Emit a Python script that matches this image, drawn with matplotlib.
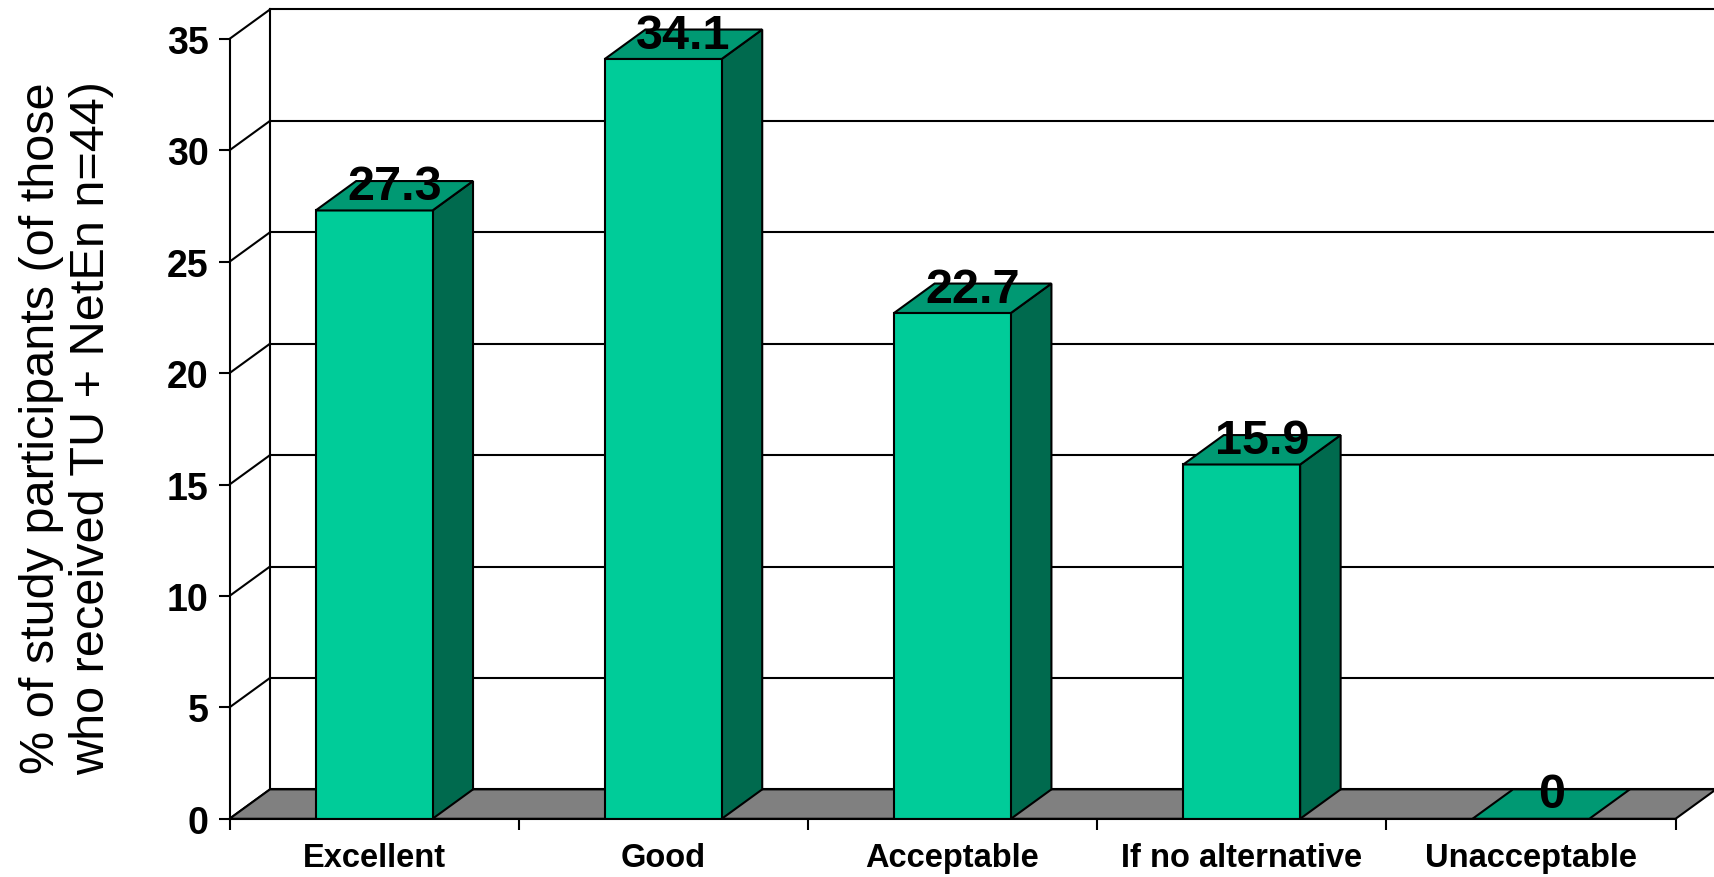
import matplotlib
matplotlib.use('Agg')
import matplotlib.pyplot as plt
from matplotlib.patches import Polygon

categories = ['Excellent', 'Good', 'Acceptable', 'If no alternative', 'Unacceptable']
values = [27.3, 34.1, 22.7, 15.9, 0]
value_labels = ['27.3', '34.1', '22.7', '15.9', '0']
y_ticks = [0, 5, 10, 15, 20, 25, 30, 35]

plt.rcParams['font.family'] = ['Liberation Sans', 'DejaVu Sans']

front_col = '#00CC99'
top_col = '#009973'
side_col = '#006A4E'
floor_col = '#808080'

# depth offset of the pseudo-3D box, in data units
dx = 0.14
dy = 1.32
bar_w = 0.404
lw = 1.5

fig = plt.figure(figsize=(17.14, 8.78), dpi=100)
ax = fig.add_axes([0.1339, 0.0663, 0.8661, 0.9337])
ax.set_xlim(0, 5.133)
ax.set_ylim(0, 36.79)
n = len(categories)
ymax = y_ticks[-1]

# back wall + left side wall
for t in y_ticks:
    ax.plot([dx, n + dx + 1], [t + dy, t + dy], color='black', lw=lw, zorder=1, clip_on=True)
    ax.plot([0, dx], [t, t + dy], color='black', lw=lw, zorder=1, clip_on=False)
ax.plot([dx, dx], [dy, ymax + dy], color='black', lw=lw, zorder=1)

# floor
ax.add_patch(Polygon([(0, 0), (n, 0), (n + dx, dy), (dx, dy)], closed=True,
                     facecolor=floor_col, edgecolor='black', lw=lw, zorder=2, clip_on=False))

# bars
for i, v in enumerate(values):
    x0 = i + 0.5 - bar_w / 2
    x1 = i + 0.5 + bar_w / 2
    if v > 0:
        ax.add_patch(Polygon([(x1, 0), (x1 + dx, dy), (x1 + dx, v + dy), (x1, v)], closed=True,
                             facecolor=side_col, edgecolor='black', lw=lw, zorder=3))
        ax.add_patch(Polygon([(x0, 0), (x1, 0), (x1, v), (x0, v)], closed=True,
                             facecolor=front_col, edgecolor='black', lw=lw, zorder=3))
    ax.add_patch(Polygon([(x0, v), (x1, v), (x1 + dx, v + dy), (x0 + dx, v + dy)], closed=True,
                         facecolor=top_col, edgecolor='black', lw=lw, zorder=3))
    ax.text(i + 0.5 + dx / 2, v + dy / 2 - 0.15, value_labels[i], ha='center', va='baseline',
            fontsize=35, fontweight='bold', zorder=5)

# axes / ticks
for s in ['top', 'right']:
    ax.spines[s].set_visible(False)
ax.spines['left'].set_bounds(0, ymax)
ax.spines['bottom'].set_bounds(0, n)
ax.spines['left'].set_linewidth(lw)
ax.spines['bottom'].set_linewidth(lw)
ax.spines['left'].set_zorder(4)
ax.spines['bottom'].set_zorder(4)

ax.set_yticks(y_ticks)
ax.set_yticklabels([str(t) for t in y_ticks], fontsize=27, fontweight='bold')
ax.tick_params(axis='y', direction='out', length=8, width=lw, pad=7)

ax.set_xticks(range(n + 1))
ax.set_xticklabels([])
ax.set_xticks([i + 0.5 for i in range(n)], minor=True)
ax.set_xticklabels(categories, minor=True, fontsize=23.5, fontweight='bold')
ax.tick_params(axis='x', which='major', direction='out', length=8, width=lw)
ax.tick_params(axis='x', which='minor', length=0, pad=17)

fig.text(0.039, 0.512, '% of study participants (of those\nwho received TU + NetEn n=44)',
         rotation=90, ha='center', va='center', multialignment='center', fontsize=35,
         linespacing=1.15)

fig.savefig('out.png', dpi=100)
